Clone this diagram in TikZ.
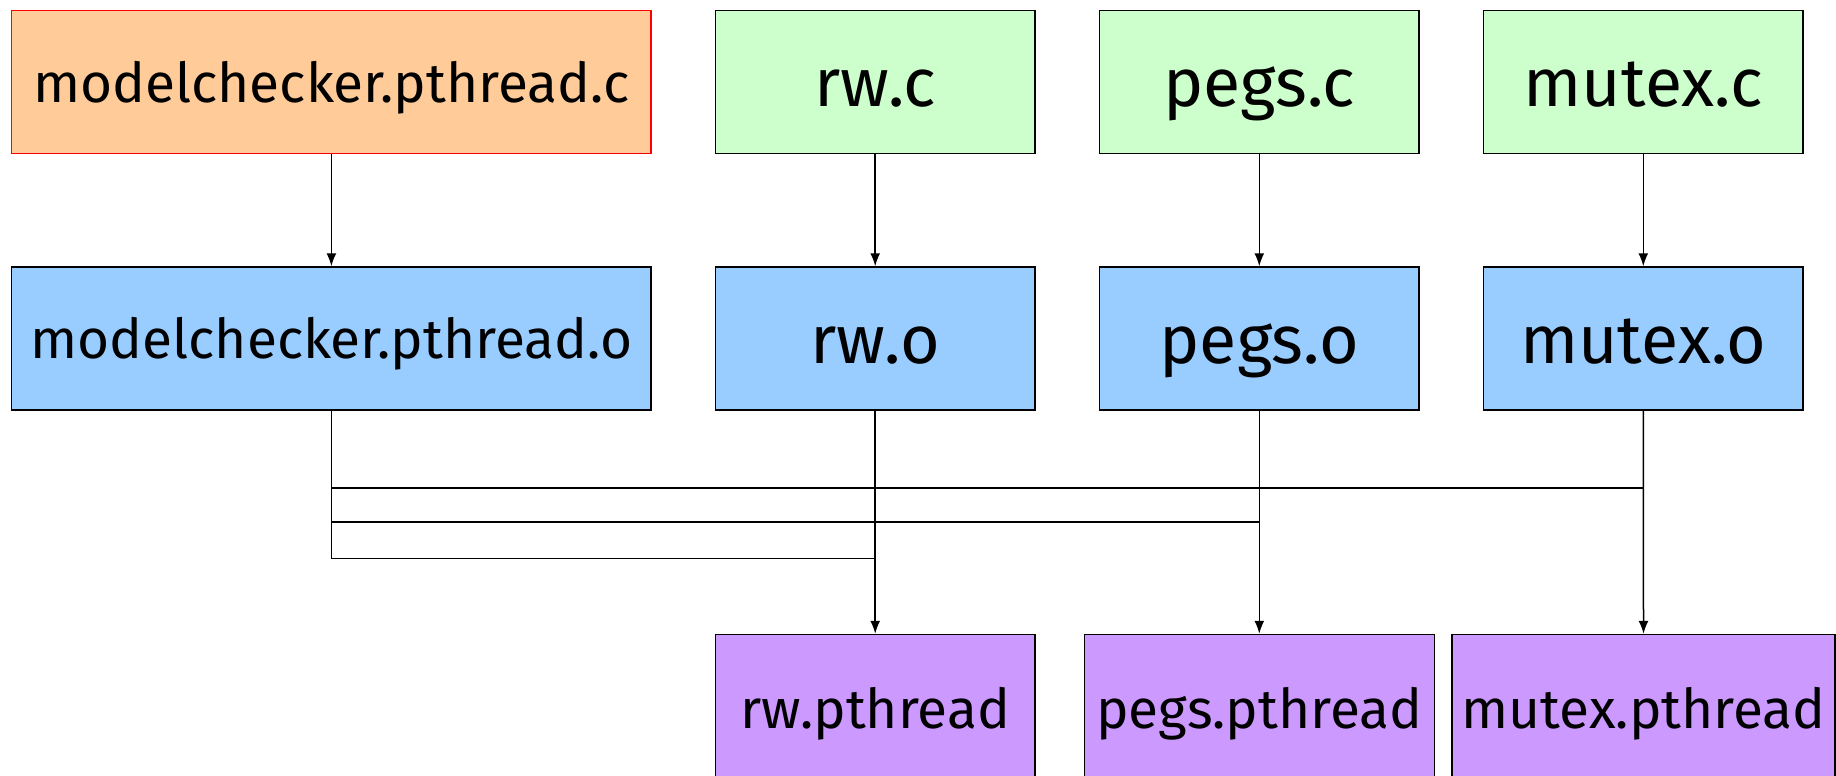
\documentclass[tikz,border=0pt]{standalone}
\usepackage{fontspec}
\setmainfont{Fira Sans}
\usetikzlibrary{arrows.meta}
\definecolor{srcorange}{HTML}{FFCC99}
\definecolor{srcgreen}{HTML}{CCFFCC}
\definecolor{objblue}{HTML}{99CCFF}
\definecolor{exepurple}{HTML}{CC99FF}
\tikzset{
  box/.style={draw=black, line width=1.5pt, minimum height=143pt, inner sep=0pt, text=black},
  mainbox/.style={box, fill=srcorange, draw=red, minimum width=639.5pt},
  srcbox/.style={box, fill=srcgreen, minimum width=319.6pt},
  objbox/.style={box, fill=objblue, minimum width=319.6pt},
  exebox/.style={box, fill=exepurple, minimum height=147pt},
  bigtxt/.style={font=\fontsize{68}{74}\selectfont, text height=49pt, text depth=0pt},
  smalltxt/.style={font=\fontsize{55}{62}\selectfont, text height=40pt, text depth=0pt},
  link/.style={line width=1.5pt, draw=black},
  bus/.style={line width=1.9pt, draw=black},
  arr/.style={link, -{Latex[length=13pt,width=10pt]}}
}
\begin{document}
\begin{tikzpicture}[x=1pt,y=-1pt]
\useasboundingbox (0,0) rectangle (1836,776);
\clip (0,0) rectangle (1836,776);
% row 1
\node[mainbox, smalltxt] (mcc) at (331.4,82) {modelchecker.pthread.c};
\node[srcbox, bigtxt] (rwc) at (875.2,82) {rw.c};
\node[srcbox, bigtxt] (pgc) at (1259.3,82) {pegs.c};
\node[srcbox, bigtxt] (muc) at (1643.3,82) {mutex.c};
% row 2
\node[objbox, smalltxt, minimum width=639.5pt] (mco) at (331.4,338.5) {modelchecker.pthread.o};
\node[objbox, bigtxt] (rwo) at (875.2,338.5) {rw.o};
\node[objbox, bigtxt] (pgo) at (1259.3,338.5) {pegs.o};
\node[objbox, bigtxt] (muo) at (1643.3,338.5) {mutex.o};
% row 3
\node[exebox, smalltxt, minimum width=319.6pt] (rwp) at (875.2,708) {rw.pthread};
\node[exebox, smalltxt, minimum width=350pt] (pgp) at (1259.3,708) {pegs.pthread};
\node[exebox, smalltxt, minimum width=383pt] (mup) at (1643.5,708) {mutex.pthread};
% compile arrows
\draw[arr] (mcc.south) -- (mco.north);
\draw[arr] (rwc.south) -- (rwo.north);
\draw[arr] (pgc.south) -- (pgo.north);
\draw[arr] (muc.south) -- (muo.north);
% link bus
\coordinate (ya) at (0,488.3);
\coordinate (yb) at (0,522.2);
\coordinate (yc) at (0,558.5);
\draw[link] (mco.south) -- (mco.south |- yc);
\draw[bus] (mco.south |- ya) -- (muo.south |- ya);
\draw[bus] (mco.south |- yb) -- (pgo.south |- yb);
\draw[bus] (mco.south |- yc) -- (rwo.south |- yc);
\draw[arr] (rwo.south) -- (rwp.north);
\draw[arr] (pgo.south) -- (pgp.north);
\draw[arr] (muo.south) -- (mup.north);
\end{tikzpicture}
\end{document}
